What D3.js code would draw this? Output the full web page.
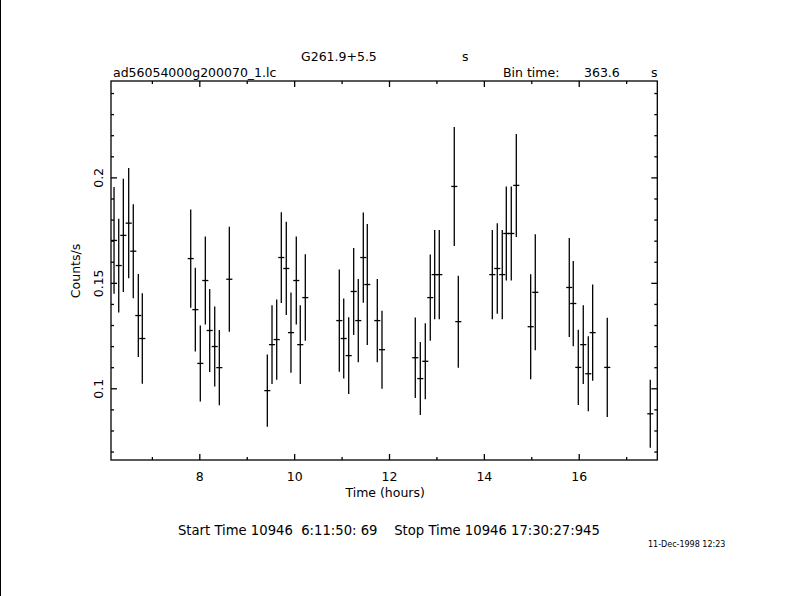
<!DOCTYPE html>
<html>
<head>
<meta charset="utf-8">
<script src="https://cdn.jsdelivr.net/npm/d3@7"></script>
<style>
  html, body { margin: 0; padding: 0; background: #fff; }
  svg { display: block; }
  text { font-family: "DejaVu Sans", sans-serif; fill: #000; white-space: pre; }
</style>
</head>
<body>
<svg id="chart" width="790" height="596"></svg>
<script>
// ---- data ----
const timeHours = [
  6.202, 6.301, 6.398, 6.511, 6.608, 6.714, 6.798,
  7.819, 7.916, 8.021, 8.127, 8.219, 8.325, 8.422, 8.633,
  9.434, 9.533, 9.632, 9.729, 9.834, 9.933, 10.045, 10.129, 10.235,
  10.952, 11.045, 11.150, 11.255, 11.352, 11.458, 11.542, 11.753, 11.852,
  12.554, 12.660, 12.765, 12.870, 12.963, 13.060, 13.376, 13.461,
  14.178, 14.283, 14.388, 14.473, 14.578, 14.684, 14.987, 15.084,
  15.801, 15.885, 15.991, 16.096, 16.202, 16.294, 16.602, 17.509
];
const rate = [
  0.1701, 0.1582, 0.1725, 0.1783, 0.1650, 0.1345, 0.1236,
  0.1615, 0.1373, 0.1118, 0.1511, 0.1274, 0.1198, 0.1098, 0.1517,
  0.0989, 0.1207, 0.1231, 0.1620, 0.1568, 0.1264, 0.1511, 0.1207, 0.1430,
  0.1321, 0.1236, 0.1155, 0.1459, 0.1321, 0.1620, 0.1492, 0.1321, 0.1183,
  0.1145, 0.1046, 0.1128, 0.1430, 0.1539, 0.1539, 0.1957, 0.1316,
  0.1539, 0.1568, 0.1539, 0.1734, 0.1734, 0.1962, 0.1292, 0.1455,
  0.1478, 0.1402, 0.1099, 0.1207, 0.1069, 0.1264, 0.1099, 0.0879
];
const rateErr = [
  0.0250, 0.0219, 0.0265, 0.0258, 0.0220, 0.0194, 0.0211,
  0.0230, 0.0196, 0.0177, 0.0206, 0.0194, 0.0187, 0.0175, 0.0246,
  0.0168, 0.0184, 0.0187, 0.0212, 0.0218, 0.0187, 0.0206, 0.0184, 0.0202,
  0.0239, 0.0187, 0.0179, 0.0203, 0.0194, 0.0211, 0.0284, 0.0194, 0.0182,
  0.0188, 0.0170, 0.0177, 0.0201, 0.0208, 0.0208, 0.0279, 0.0215,
  0.0208, 0.0211, 0.0208, 0.0220, 0.0220, 0.0241, 0.0246, 0.0272,
  0.0232, 0.0199, 0.0175, 0.0184, 0.0175, 0.0225, 0.0232, 0.0158
];
const binTimeSec = 363.6;

const xDomain = [6.138, 17.657];
const yDomain = [0.066, 0.2457];
const xMajorTicks = [8, 10, 12, 14, 16];
const xTickLabels = ["8", "10", "12", "14", "16"];
const xMinorTicks = [7, 9, 11, 13, 15, 17];
const yMajorTicks = [0.1, 0.15, 0.2];
const yTickLabels = ["0.1", "0.15", "0.2"];
const yMinorTicks = [0.07, 0.08, 0.09, 0.11, 0.12, 0.13, 0.14, 0.16, 0.17, 0.18, 0.19, 0.21, 0.22, 0.23, 0.24];

const titleLine1 = "G261.9+5.5";
const titleUnit1 = "s";
const fileName = "ad56054000g200070_1.lc";
const binLabel = "Bin time:";
const binValue = "363.6";
const binUnit = "s";
const xTitle = "Time (hours)";
const yTitle = "Counts/s";
const timeRange = "Start Time 10946  6:11:50: 69    Stop Time 10946 17:30:27:945";
const dateStamp = "11-Dec-1998 12:23";

// ---- layout ----
const L = 111, R = 657.3, T = 81, B = 460;
const svg = d3.select("#chart");
const x = d3.scaleLinear().domain(xDomain).range([L, R]);
const y = d3.scaleLinear().domain(yDomain).range([B, T]);
const SW = 1.3;

// page left border line
svg.append("line").attr("x1", 0.5).attr("x2", 0.5).attr("y1", 0).attr("y2", 596)
  .attr("stroke", "#000").attr("stroke-width", 1);

// frame
svg.append("rect").attr("x", L).attr("y", T).attr("width", R - L).attr("height", B - T)
  .attr("fill", "none").attr("stroke", "#000").attr("stroke-width", SW);

function styleAxis(g) {
  g.select(".domain").remove();
  g.selectAll(".tick line").attr("stroke", "#000").attr("stroke-width", SW);
  g.attr("font-family", null).attr("font-size", null);
}

// bottom axis (ticks inward, labels below)
const gb = svg.append("g").attr("transform", `translate(0,${B})`)
  .call(d3.axisBottom(x).tickValues(xMajorTicks).tickSize(-6)
    .tickFormat((d, i) => xTickLabels[i]));
styleAxis(gb);
gb.selectAll(".tick text").attr("y", 21).attr("dy", null)
  .style("font-size", "12.5px");
svg.append("g").attr("transform", `translate(0,${B})`)
  .call(d3.axisBottom(x).tickValues(xMinorTicks).tickSize(-3).tickFormat(""))
  .call(styleAxis);

// top axis (ticks inward)
svg.append("g").attr("transform", `translate(0,${T})`)
  .call(d3.axisBottom(x).tickValues(xMajorTicks).tickSize(6).tickFormat(""))
  .call(styleAxis);
svg.append("g").attr("transform", `translate(0,${T})`)
  .call(d3.axisBottom(x).tickValues(xMinorTicks).tickSize(3).tickFormat(""))
  .call(styleAxis);

// left axis (ticks inward, rotated labels)
const gl = svg.append("g").attr("transform", `translate(${L},0)`)
  .call(d3.axisLeft(y).tickValues(yMajorTicks).tickSize(-6)
    .tickFormat((d, i) => yTickLabels[i]));
styleAxis(gl);
gl.selectAll(".tick text")
  .attr("x", null).attr("dy", null)
  .attr("text-anchor", "middle")
  .attr("transform", "translate(-8.5,0) rotate(-90)")
  .style("font-size", "12.5px");
svg.append("g").attr("transform", `translate(${L},0)`)
  .call(d3.axisLeft(y).tickValues(yMinorTicks).tickSize(-3).tickFormat(""))
  .call(styleAxis);

// right axis (ticks inward)
svg.append("g").attr("transform", `translate(${R},0)`)
  .call(d3.axisLeft(y).tickValues(yMajorTicks).tickSize(6).tickFormat(""))
  .call(styleAxis);
svg.append("g").attr("transform", `translate(${R},0)`)
  .call(d3.axisLeft(y).tickValues(yMinorTicks).tickSize(3).tickFormat(""))
  .call(styleAxis);

// data: error bars with half-bin horizontal bars
const pts = timeHours.map((t, i) => ({ t, r: rate[i], e: rateErr[i] }));
const halfBin = binTimeSec / 3600 / 2;
const gp = svg.append("g").attr("stroke", "#000").attr("stroke-width", SW)
  .attr("stroke-linecap", "square");
gp.selectAll("line.v").data(pts).join("line").attr("class", "v")
  .attr("x1", d => x(d.t)).attr("x2", d => x(d.t))
  .attr("y1", d => y(d.r - d.e)).attr("y2", d => y(d.r + d.e));
gp.selectAll("line.h").data(pts).join("line").attr("class", "h")
  .attr("x1", d => x(d.t - halfBin)).attr("x2", d => x(d.t + halfBin))
  .attr("y1", d => y(d.r)).attr("y2", d => y(d.r));

// texts
function txt(s, px, py, size, anchor) {
  return svg.append("text").attr("x", px).attr("y", py)
    .attr("text-anchor", anchor || "start").style("font-size", size + "px").text(s);
}
txt(titleLine1, 301, 61, 12.5);
txt(titleUnit1, 462, 61, 12.5);
txt(fileName, 113, 77, 12.5);
txt(binLabel, 503, 77, 12.5);
txt(binValue, 584, 77, 12.5);
txt(binUnit, 651, 77, 12.5);
txt(xTitle, (L + R) / 2 + 1, 497, 12.5, "middle");
txt(timeRange, 178, 535, 13.2);
txt(dateStamp, 648, 547, 8);
svg.append("text").attr("transform", `translate(80,271) rotate(-90)`)
  .attr("text-anchor", "middle").style("font-size", "12.5px").text(yTitle);
</script>
</body>
</html>
